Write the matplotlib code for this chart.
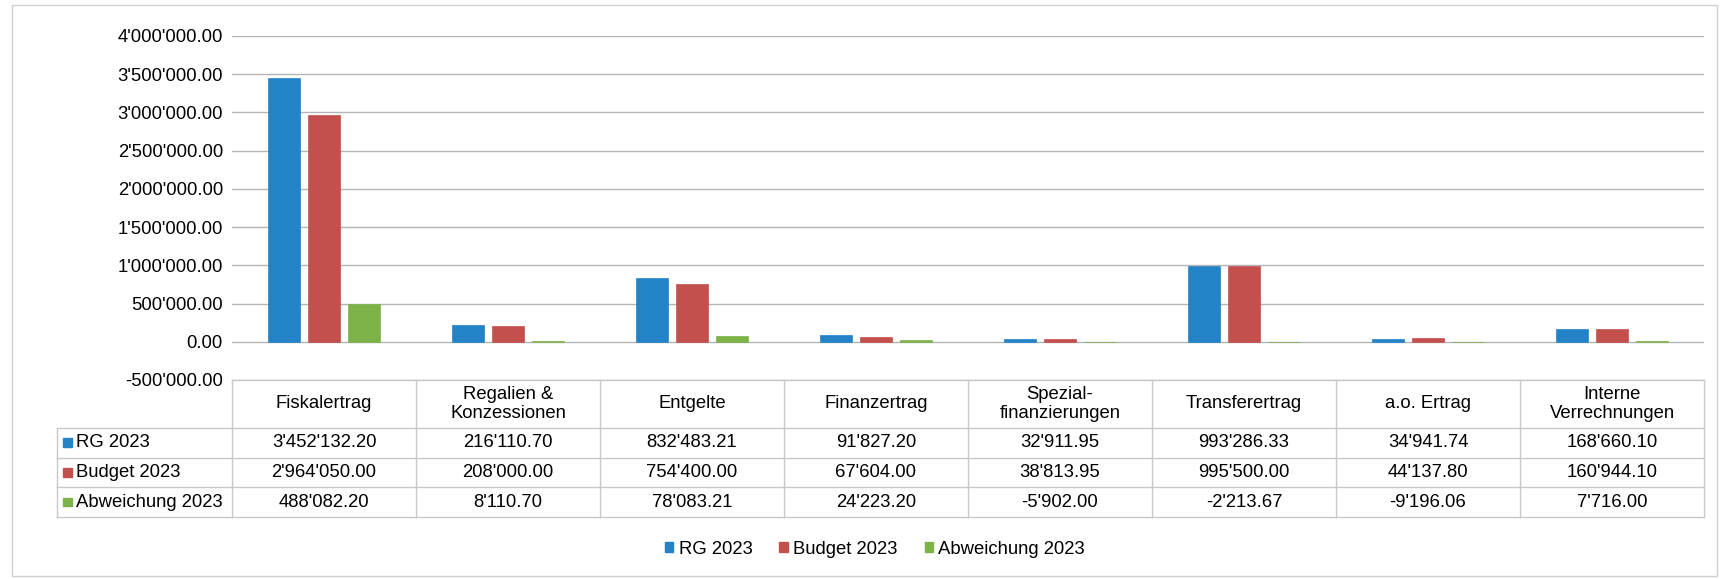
import matplotlib
matplotlib.use("Agg")
import matplotlib.pyplot as plt
import numpy as np
from matplotlib.patches import Rectangle

plt.rcParams["font.family"] = ["Liberation Sans", "DejaVu Sans"]
FS = 13.3
plt.rcParams["font.size"] = FS

categories = ["Fiskalertrag", "Regalien &\nKonzessionen", "Entgelte", "Finanzertrag",
              "Spezial-\nfinanzierungen", "Transferertrag", "a.o. Ertrag", "Interne\nVerrechnungen"]
series_names = ["RG 2023", "Budget 2023", "Abweichung 2023"]
rg_2023 = [3452132.20, 216110.70, 832483.21, 91827.20, 32911.95, 993286.33, 34941.74, 168660.10]
budget_2023 = [2964050.00, 208000.00, 754400.00, 67604.00, 38813.95, 995500.00, 44137.80, 160944.10]
abweichung_2023 = [488082.20, 8110.70, 78083.21, 24223.20, -5902.00, -2213.67, -9196.06, 7716.00]
y_ticks = [-500000, 0, 500000, 1000000, 1500000, 2000000, 2500000, 3000000, 3500000, 4000000]

colors = ["#2383C6", "#C4504E", "#7DB249"]
grid_col = "#b4b4b4"
table_col = "#c8c8c8"


def chf(v):
    return f"{v:,.2f}".replace(",", "'")


W, H = 1720, 579
fig = plt.figure(figsize=(W / 100, H / 100), dpi=100)
fig.patches.append(Rectangle((12 / W, 3 / H), 1 - 15 / W, 1 - 8 / H, transform=fig.transFigure,
                             fill=False, edgecolor="#d0d0d0", lw=1))

# bar area
left, right, top, bottom, tbottom = 232, 1704, 36, 380, 517
ax = fig.add_axes([left / W, 1 - bottom / H, (right - left) / W, (bottom - top) / H])
x = np.arange(len(categories))
values = [rg_2023, budget_2023, abweichung_2023]
for i, (vals, c) in enumerate(zip(values, colors)):
    ax.bar(x + (i - 1) * 0.22, vals, width=0.174, color=c, edgecolor=c, lw=0.5, zorder=3)
ax.set_xlim(-0.5, len(categories) - 0.5)
ax.set_ylim(y_ticks[0], y_ticks[-1])
ax.set_yticks(y_ticks)
ax.set_yticklabels([chf(t) for t in y_ticks])
ax.tick_params(axis="y", length=0, pad=6.5, labelsize=FS)
ax.set_xticks([])
ax.grid(axis="y", color=grid_col, lw=1, zorder=0)
for s in ax.spines.values():
    s.set_visible(False)

# data table
tax = fig.add_axes([left / W, 1 - tbottom / H, (right - left) / W, (tbottom - bottom) / H])
header_h = 48
row_h = (tbottom - bottom - header_h) / len(series_names)
total = tbottom - bottom
n = len(categories)
lab_x = -0.5 - 175 / ((right - left) / n)
tax.set_xlim(-0.5, n - 0.5)
tax.set_ylim(0, total)
tax.axis("off")
tax.plot([-0.5, n - 0.5], [total, total], color=table_col, lw=1, clip_on=False)
for j, cat in enumerate(categories):
    tax.text(j, total - header_h / 2, cat, ha="center", va="center", fontsize=FS, linespacing=1.1)
ys = [total - header_h - k * row_h for k in range(len(series_names) + 1)]
for yv in ys:
    tax.plot([lab_x, n - 0.5], [yv, yv], color=table_col, lw=1, clip_on=False)
for xv in np.arange(-0.5, n, 1.0):
    tax.plot([xv, xv], [0, total], color=table_col, lw=1, clip_on=False)
tax.plot([lab_x, lab_x], [0, ys[0]], color=table_col, lw=1, clip_on=False)
px = n / (right - left)  # data units per pixel horizontally
for k, (name, vals, c) in enumerate(zip(series_names, values, colors)):
    yc = ys[k] - row_h / 2
    tax.add_patch(Rectangle((lab_x + 6 * px, yc - 4), 9 * px, 8.5, color=c, clip_on=False))
    tax.text(lab_x + 19 * px, yc, name, ha="left", va="center", fontsize=FS)
    for j, v in enumerate(vals):
        tax.text(j, yc, chf(v), ha="center", va="center", fontsize=FS)

# legend
handles = [Rectangle((0, 0), 1, 1, color=c) for c in colors]
fig.legend(handles, series_names, loc="center", bbox_to_anchor=(875 / W, 1 - 549 / H), ncol=3,
           frameon=False, handlelength=0.45, handleheight=0.45, handletextpad=0.3, columnspacing=1.45,
           fontsize=FS)

fig.savefig("out.png", dpi=100)
